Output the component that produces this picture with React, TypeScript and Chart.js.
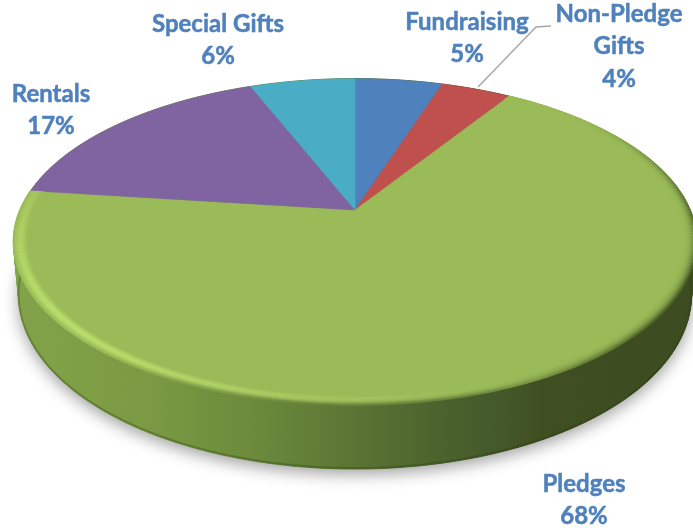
import React, { useEffect, useRef } from "react";
import { Chart, registerables } from "chart.js";

Chart.register(...registerables);

// Income shares, clockwise from twelve o'clock
const categories = ["Fundraising", "Non-Pledge Gifts", "Pledges", "Rentals", "Special Gifts"];
const shares = [5, 4, 68, 17, 6];
const sliceColors = ["#4F81BD", "#C0504D", "#9BBB59", "#8064A2", "#4BACC6"];

// Wrapped label lines and their centres
const labelLines = [["Fundraising"], ["Non-Pledge", "Gifts"], ["Pledges"], ["Rentals"], ["Special Gifts"]];
const labelCentres = [
  [467, 22],
  [619, 14],
  [584, 484],
  [51, 94],
  [218, 24],
];
const leaderLine = [
  [478, 87],
  [536, 27],
  [551, 26],
];

// Perspective of the tilted disc
const view = { cx: 355, cy: 210, rx: 335, ry: 157, tilt: 0.195, wallMid: 50, wallFront: 14, baseScale: 0.985 };
const textColor = "#4F81BD";
const sideStops: [number, string][] = [
  [0, "#83A34A"],
  [0.2, "#7B9A43"],
  [0.36, "#6B8A3B"],
  [0.57, "#536A30"],
  [0.7, "#455A2A"],
  [0.78, "#3F4F22"],
  [1, "#3D4C20"],
];

type P = [number, number];

// Maps a canvas angle and relative radius on the disc to a screen point
function project(angle: number, r = 1): P {
  const u = Math.cos(angle) * r;
  const v = -Math.sin(angle) * r;
  const d = 1 + view.tilt * v;
  return [view.cx + (view.rx * u) / d, view.cy - (view.ry * v) / d];
}

// Lower rim: the wall is tallest at the front of the disc
function baseRim(angle: number): P {
  const [x, y] = project(angle);
  const front = Math.sin(angle);
  return [view.cx + (x - view.cx) * view.baseScale, y + view.wallMid + view.wallFront * front];
}

function mix(a: number[], b: number[], t: number) {
  return a.map((v, i) => Math.round(v + (b[i] - v) * t));
}

function css(c: number[]) {
  return `rgb(${c[0]},${c[1]},${c[2]})`;
}

function bump(x: number, centre: number, width: number) {
  const t = Math.abs(x - centre) / width;
  return t >= 1 ? 0 : 0.5 + 0.5 * Math.cos(Math.PI * t);
}

function drawBody(ctx: CanvasRenderingContext2D) {
  const steps = 240;

  // Soft shadow under the base
  ctx.save();
  ctx.shadowColor = "rgba(0,0,0,0.38)";
  ctx.shadowBlur = 16;
  ctx.shadowOffsetY = 5;
  ctx.fillStyle = "#566b30";
  ctx.beginPath();
  for (let i = 0; i <= steps; i++) {
    const p = baseRim((i / steps) * Math.PI * 2);
    if (i === 0) ctx.moveTo(p[0], p[1]);
    else ctx.lineTo(p[0], p[1]);
  }
  ctx.closePath();
  ctx.fill();
  ctx.restore();

  // Side wall, shaded left to right
  const wall = ctx.createLinearGradient(13, 0, 693, 0);
  sideStops.forEach(([o, c]) => wall.addColorStop(o, c));
  ctx.fillStyle = wall;
  ctx.strokeStyle = wall;
  ctx.lineWidth = 1;
  for (let i = 0; i < steps; i++) {
    const a0 = (i / steps) * Math.PI * 2;
    const a1 = ((i + 1) / steps) * Math.PI * 2;
    const p = [project(a0), project(a1), baseRim(a1), baseRim(a0)];
    ctx.beginPath();
    p.forEach((q, k) => (k ? ctx.lineTo(q[0], q[1]) : ctx.moveTo(q[0], q[1])));
    ctx.closePath();
    ctx.fill();
    ctx.stroke();
  }

  // Darker lip along the bottom edge of the wall
  ctx.save();
  ctx.strokeStyle = "rgba(40,58,16,0.3)";
  ctx.lineWidth = 2;
  ctx.beginPath();
  for (let i = 0; i <= steps / 2; i++) {
    const p = baseRim((i / (steps / 2)) * Math.PI);
    if (i === 0) ctx.moveTo(p[0], p[1] - 1);
    else ctx.lineTo(p[0], p[1] - 1);
  }
  ctx.stroke();
  ctx.restore();
}

function drawSlice(ctx: CanvasRenderingContext2D, start: number, end: number, color: string) {
  const n = Math.max(8, Math.ceil((end - start) * 60));
  ctx.beginPath();
  ctx.moveTo(view.cx, view.cy);
  for (let i = 0; i <= n; i++) {
    const p = project(start + ((end - start) * i) / n);
    ctx.lineTo(p[0], p[1]);
  }
  ctx.closePath();
  ctx.fillStyle = color;
  ctx.strokeStyle = color;
  ctx.lineWidth = 0.5;
  ctx.fill();
  ctx.stroke();
}

// Rounded rim of the large slice: bright at lower left, shaded at lower right
function drawBevel(ctx: CanvasRenderingContext2D, start: number, end: number) {
  const face = [155, 187, 89];
  const light = [186, 222, 108];
  const shade = [66, 84, 36];
  const rings = 14;
  const segs = 220;
  for (let j = 0; j <= rings; j++) {
    const t = j / rings;
    const r = 0.958 + 0.042 * t;
    for (let i = 0; i < segs; i++) {
      const a0 = start + ((end - start) * i) / segs;
      const a1 = start + ((end - start) * (i + 1)) / segs;
      const deg = (((a0 + Math.PI / 2) * 180) / Math.PI + 360) % 360;
      const glow = bump(deg, 228, 80) * bump(t, 0.55, 0.55);
      const edge = Math.max(
        bump(deg, 112, 72) * Math.pow(t, 3) * 0.95,
        bump(deg, 175, 55) * Math.pow(t, 4) * 0.55
      );
      const p0 = project(a0, r);
      const p1 = project(a1, r);
      ctx.beginPath();
      ctx.moveTo(p0[0], p0[1]);
      ctx.lineTo(p1[0], p1[1]);
      ctx.strokeStyle = css(mix(mix(face, light, glow), shade, edge));
      ctx.lineWidth = 1.6;
      ctx.stroke();
    }
  }
}

function drawLabels(ctx: CanvasRenderingContext2D) {
  ctx.save();
  ctx.strokeStyle = "#A6A6A6";
  ctx.lineWidth = 1.4;
  ctx.beginPath();
  leaderLine.forEach(([x, y], i) => (i ? ctx.lineTo(x, y) : ctx.moveTo(x, y)));
  ctx.stroke();

  ctx.font = 'bold 24px Lato, "Open Sans", sans-serif';
  ctx.fillStyle = textColor;
  ctx.strokeStyle = textColor;
  ctx.lineWidth = 0.5;
  ctx.lineJoin = "round";
  ctx.textAlign = "center";
  ctx.textBaseline = "middle";
  const lineStep = 32.5;
  categories.forEach((_, i) => {
    const [x, y] = labelCentres[i];
    const lines = [...labelLines[i], `${shares[i]}%`];
    lines.forEach((line, k) => {
      ctx.fillText(line, x, y + k * lineStep);
      ctx.strokeText(line, x, y + k * lineStep);
    });
  });
  ctx.restore();
}

const pie3d = {
  id: "pie3d",
  beforeDatasetsDraw(chart: Chart) {
    const ctx = chart.ctx;
    const arcs = chart.getDatasetMeta(0).data as any[];
    drawBody(ctx);
    arcs.forEach((arc, i) => drawSlice(ctx, arc.startAngle, arc.endAngle, sliceColors[i]));
    const main = shares.indexOf(Math.max(...shares));
    drawBevel(ctx, arcs[main].startAngle, arcs[main].endAngle);
    drawLabels(ctx);
    return false;
  },
};

export default function App() {
  const canvasRef = useRef<HTMLCanvasElement>(null);

  useEffect(() => {
    document.body.style.margin = "0";
    const chart = new Chart(canvasRef.current!, {
      type: "pie",
      data: {
        labels: categories,
        datasets: [{ data: shares, backgroundColor: sliceColors, borderWidth: 0 }],
      },
      options: {
        animation: false,
        responsive: false,
        plugins: { legend: { display: false }, tooltip: { enabled: false } },
      },
      plugins: [pie3d],
    });
    return () => chart.destroy();
  }, []);

  return <canvas ref={canvasRef} width={693} height={531} style={{ display: "block" }} />;
}
